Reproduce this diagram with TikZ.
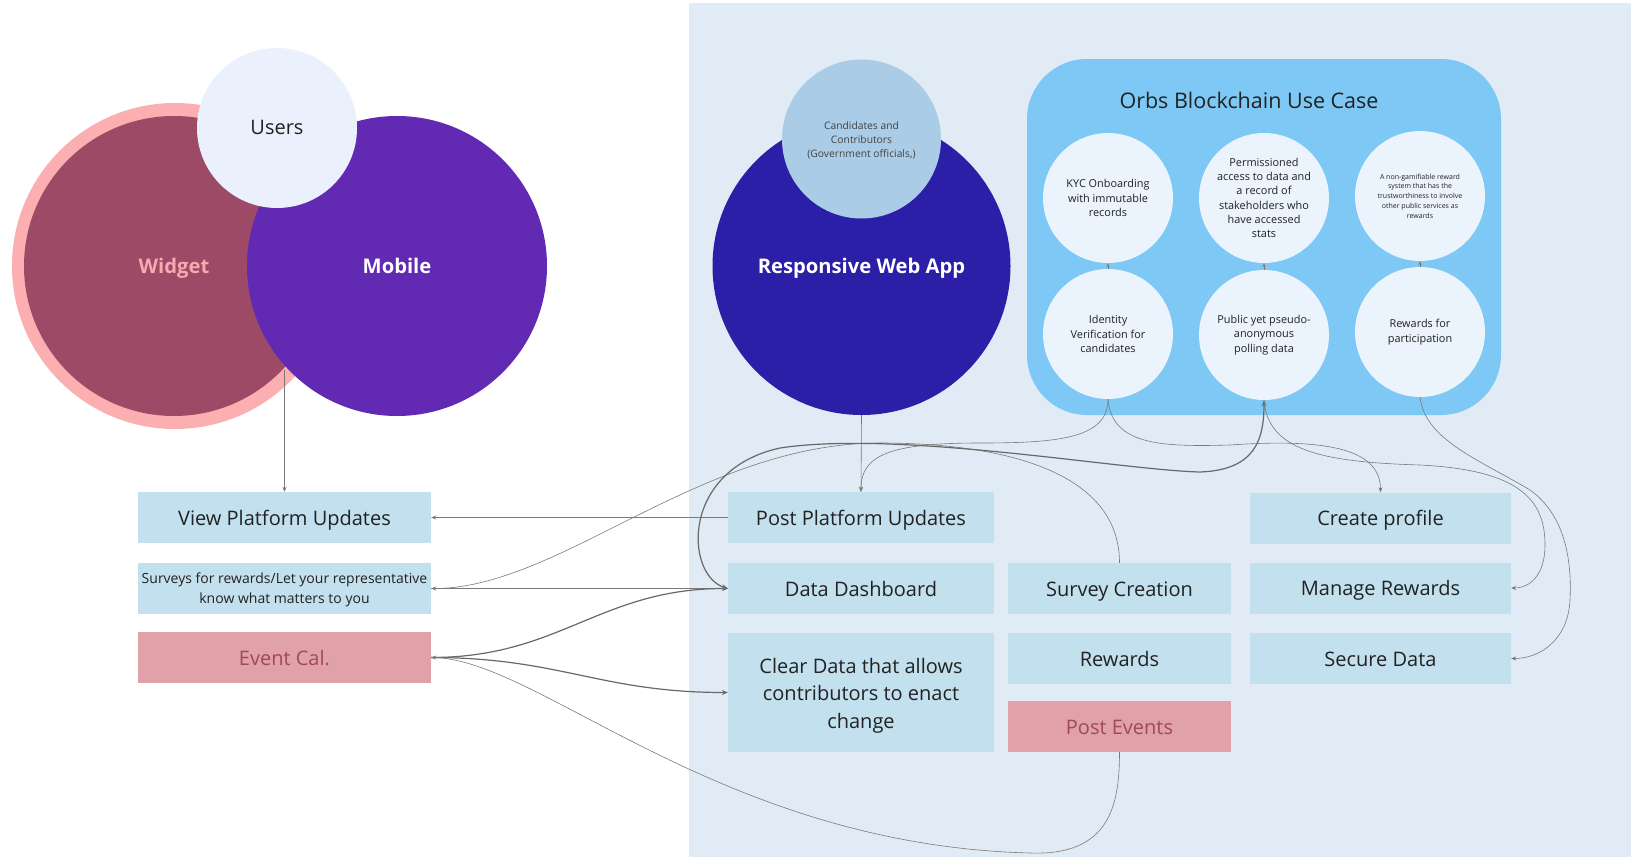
\documentclass[tikz,border=0pt]{standalone}
\usepackage{fontspec}
\setmainfont{Open Sans}
\usetikzlibrary{arrows.meta}
\definecolor{panel}{HTML}{E1EBF5}
\definecolor{boxc}{HTML}{C3E0EE}
\definecolor{pinkbox}{HTML}{E0A1A9}
\definecolor{pinktxt}{HTML}{A0485E}
\definecolor{pinkring}{HTML}{FBAFB1}
\definecolor{widgetc}{HTML}{9C4A66}
\definecolor{widgettxt}{HTML}{F7A8B0}
\definecolor{mobilec}{HTML}{6229B2}
\definecolor{usersc}{HTML}{EAF1FD}
\definecolor{webc}{HTML}{2A1FA6}
\definecolor{candc}{HTML}{ABCCE6}
\definecolor{orbsc}{HTML}{7DC8F4}
\definecolor{smallc}{HTML}{EBF3FC}
\definecolor{linec}{HTML}{7A7A7A}
\definecolor{darktxt}{HTML}{222222}
\begin{document}
\begin{tikzpicture}[x=1pt,y=-1pt,
  disc/.style={circle,inner sep=0pt,draw=none},
  boxn/.style={rectangle,fill=boxc,inner sep=0pt,minimum height=51pt},
  pinkn/.style={boxn,fill=pinkbox},
  btxt/.style={align=center,text=darktxt,inner sep=0pt,font=\fontsize{20}{27.5}\selectfont},
  one/.style={text height=15pt,text depth=4.8pt},
  bigbold/.style={inner sep=0pt,one,font=\fontsize{20.2}{24}\selectfont\bfseries},
  smalltxt/.style={align=center,text=darktxt,font=\fontsize{10.9}{14.3}\selectfont},
  conn/.style={draw=linec,line width=0.6pt,-{Stealth[length=5pt,width=4pt]}},
  connthick/.style={draw=linec!85!black,line width=1.2pt,-{Stealth[length=6pt,width=5pt]}},
  tiny/.style={draw=linec,line width=0.6pt,-{Stealth[length=4pt,width=3pt]}}]
\useasboundingbox (0,0) rectangle (1631,857);
\fill[white] (0,0) rectangle (1631,857);
\fill[panel] (689,3) rectangle (1631,857);

% left circles
\node[disc,fill=pinkring,minimum size=326pt] (ring) at (175,266) {};
\node[disc,fill=widgetc,minimum size=300pt] (widget) at (174,266) {};
\node[disc,fill=mobilec,minimum size=300pt] (mobile) at (397,266) {};
\node[bigbold,text=widgettxt] (widgett) at ([yshift=-2.5pt]widget.center) {Widget};
\node[bigbold,text=white] (mobilet) at ([yshift=-2.5pt]mobile.center) {Mobile};
\node[disc,fill=usersc,minimum size=160pt] (users) at (277,128) {};
\node[inner sep=0pt,one,font=\fontsize{20}{24}\selectfont,text=darktxt] (userst) at ([yshift=-1.5pt]users.center) {Users};

% web app
\node[disc,fill=webc,minimum size=298pt] (web) at (861.5,266) {};
\node[bigbold,text=white] (webt) at ([yshift=-2.5pt]web.center) {Responsive Web App};
\node[disc,fill=candc,minimum size=159pt] (cand) at (861.5,139) {};
\node[align=center,text=darktxt!85!white,font=\fontsize{10.3}{14.2}\selectfont] (candt) at ([yshift=-1.5pt]cand.center) {Candidates and\\Contributors\\(Government officials,)};

% orbs
\node[rectangle,fill=orbsc,rounded corners=60pt,minimum width=474pt,minimum height=356pt,inner sep=0pt] (orbs) at (1264,237) {};
\node[font=\fontsize{21.5}{26}\selectfont,text=darktxt] (orbstitle) at (1249,100) {Orbs Blockchain Use Case};

\node[disc,fill=smallc,minimum size=130pt,smalltxt] (kyc) at (1108,198) {KYC Onboarding\\with immutable\\records};
\node[disc,fill=smallc,minimum size=130pt,smalltxt] (perm) at (1264,198) {Permissioned\\access to data and\\a record of\\stakeholders who\\have accessed\\stats};
\node[disc,fill=smallc,minimum size=130pt,align=center,text=darktxt,font=\fontsize{7}{9.7}\selectfont] (ngam) at (1420,196) {A non-gamifiable reward\\system that has the\\trustworthiness to involve\\other public services as\\rewards};
\node[disc,fill=smallc,minimum size=130pt,smalltxt] (idv) at (1108,334) {Identity\\Verification for\\candidates};
\node[disc,fill=smallc,minimum size=130pt,smalltxt] (pub) at (1264,335) {Public yet pseudo-\\anonymous\\polling data};
\node[disc,fill=smallc,minimum size=130pt,smalltxt] (rew) at (1420,332) {Rewards for\\participation};

% boxes
\node[boxn,minimum width=293pt] (view) at (284.5,517.5) {};
\node[boxn,minimum width=293pt] (surv) at (284.5,588.5) {};
\node[pinkn,minimum width=293pt] (evc) at (284.5,657.5) {};
\node[boxn,minimum width=266pt] (post) at (861,517.5) {};
\node[boxn,minimum width=266pt] (dash) at (861,588.5) {};
\node[boxn,minimum width=266pt,minimum height=119pt] (clear) at (861,692.5) {};
\node[boxn,minimum width=223pt] (screate) at (1119.5,588.5) {};
\node[boxn,minimum width=223pt] (rewards) at (1119.5,658.5) {};
\node[pinkn,minimum width=223pt] (pevents) at (1119.5,726.5) {};
\node[boxn,minimum width=261pt] (cprof) at (1380.5,518) {};
\node[boxn,minimum width=261pt] (mrew) at (1380.5,588) {};
\node[boxn,minimum width=261pt] (sdata) at (1380.5,658.5) {};

% box texts
\node[btxt,one] (viewt) at ([yshift=-2.5pt]view.center) {View Platform Updates};
\node[btxt,font=\fontsize{14}{20}\selectfont] (survt) at ([yshift=-1.5pt]surv.center) {Surveys for rewards/Let your representative\\know what matters to you};
\node[btxt,one,text=pinktxt] (evct) at ([yshift=-2.5pt]evc.center) {Event Cal.};
\node[btxt,one] (postt) at ([yshift=-2.5pt]post.center) {Post Platform Updates};
\node[btxt,one] (dasht) at ([yshift=-2.5pt]dash.center) {Data Dashboard};
\node[btxt] (cleart) at ([yshift=-3pt]clear.center) {Clear Data that allows\\contributors to enact\\change};
\node[btxt,one] (screatet) at ([yshift=-2.5pt]screate.center) {Survey Creation};
\node[btxt,one] (rewardst) at ([yshift=-2.5pt]rewards.center) {Rewards};
\node[btxt,one,text=pinktxt] (peventst) at ([yshift=-2.5pt]pevents.center) {Post Events};
\node[btxt,one] (cproft) at ([yshift=-2.5pt]cprof.center) {Create profile};
\node[btxt,one] (mrewt) at ([yshift=-2.5pt]mrew.center) {Manage Rewards};
\node[btxt,one] (sdatat) at ([yshift=-2.5pt]sdata.center) {Secure Data};

% connectors
\coordinate (mstart) at (284.5,370);
\draw[conn] (mstart) -- (view.north);
\draw[conn] (web.south) -- (post.north);
\draw[conn] (post.west) -- (view.east);
\draw[conn] (surv.east) -- (dash.west);

\draw[tiny] (idv.north) -- (kyc.south);
\draw[tiny] (pub.north) -- (perm.south);
\draw[tiny] (rew.north) -- (ngam.south);

\draw[conn] (screate.north) .. controls (1119.5,470) and (1000,443) .. (880,443) .. controls (700,443) and (560,588.5) .. (surv.east);
\draw[conn] (idv.south) .. controls (1108,438) and (1060,443) .. (980,443) .. controls (890,443) and (861,455) .. (post.north);
\draw[connthick,{Stealth[length=6pt,width=5pt]}-{Stealth[length=6pt,width=5pt]}] (dash.west) .. controls (685,575) and (680,470) .. (780,448) .. controls (900,430) and (1120,470) .. (1200,472) .. controls (1255,470) and (1264,440) .. (pub.south);
\draw[conn] (idv.south) .. controls (1112,445) and (1160,447) .. (1230,445) .. controls (1330,438) and (1380.5,450) .. (cprof.north);
\draw[conn] (pub.south) .. controls (1268,450) and (1320,462) .. (1420,465) .. controls (1520,470) and (1545,500) .. (1545,545) .. controls (1545,575) and (1530,588) .. (mrew.east);
\draw[conn] (rew.south) .. controls (1425,440) and (1480,460) .. (1530,490) .. controls (1565,515) and (1572,560) .. (1570,600) .. controls (1568,640) and (1540,658.5) .. (sdata.east);
\draw[connthick] (evc.east) .. controls (560,657.5) and (600,588.5) .. (dash.west);
\draw[connthick] (evc.east) .. controls (560,657.5) and (600,692.5) .. (clear.west);
\draw[conn] (pevents.south) .. controls (1119.5,805) and (1110,856) .. (1030,853) .. controls (720,845) and (540,660) .. (evc.east);
\end{tikzpicture}
\end{document}
